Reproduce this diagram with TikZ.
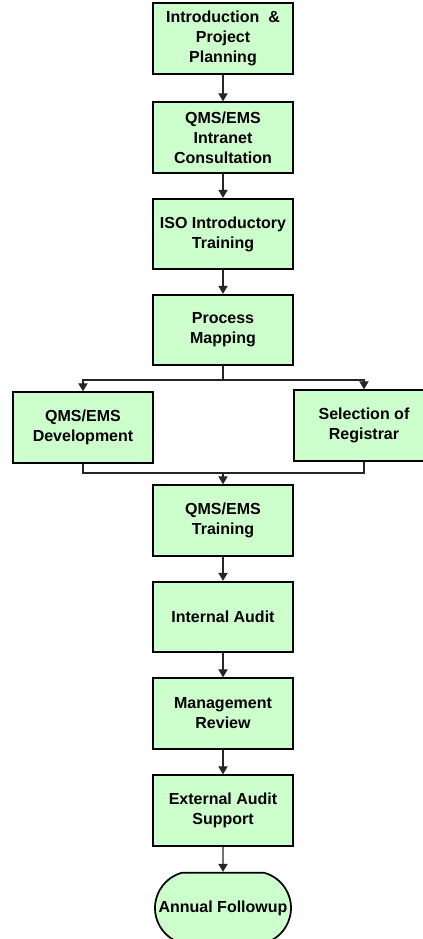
\documentclass[tikz,border=0pt]{standalone}
\usepackage{fontspec}
\setmainfont{Liberation Sans}
\usepackage{tikz}
\usetikzlibrary{arrows.meta,shapes.misc}
\definecolor{boxgreen}{HTML}{CCFFCC}
\tikzstyle{stage}=[rectangle,draw=black,line width=1.3pt,fill=boxgreen,minimum width=105pt,minimum height=53pt,align=center,inner sep=2pt,font=\fontsize{12}{15}\selectfont\bfseries]
\tikzstyle{terminal}=[stage,rounded rectangle,rounded rectangle arc length=150,minimum width=106pt,minimum height=53pt]
\tikzstyle{link}=[draw,line width=0.8pt,black!85]
\tikzstyle{arrow}=[link,-{Triangle[width=7pt,length=6pt]}]

\begin{document}
\begin{tikzpicture}[x=0.75pt,y=-0.75pt]
    \useasboundingbox (0,0) rectangle (422,939);
    % main column
    \foreach \pos/\name/\txt in {{(223,38.5)/intro/{Introduction \ \&\\Project\\Planning}},
        {(223,137.5)/intranet/{QMS/EMS\\Intranet\\Consultation}},
        {(223,234)/iso/{ISO Introductory\\Training}},
        {(223,330)/process/{Process\\Mapping}},
        {(83,427.5)/dev/{QMS/EMS\\Development}},
        {(364,425.5)/registrar/{Selection of\\Registrar}},
        {(223,520.5)/training/{QMS/EMS\\Training}},
        {(223,617)/audit/{Internal Audit}},
        {(223,713.5)/review/{Management\\Review}},
        {(223,810.5)/external/{External Audit\\Support}}}
        \node[stage] (\name) at \pos {\txt};
    \node[terminal] (followup) at (223,908) {Annual Followup};
    \foreach \source/\dest in {intro/intranet, intranet/iso, iso/process, training/audit,
        audit/review, review/external, external/followup}
        \path[arrow] (\source) -- (\dest);
    % split and merge
    \coordinate (split) at (223,380);
    \coordinate (merge) at (223,473);
    \path[link] (process) -- (split);
    \foreach \dest in {dev, registrar}
        \path[arrow] (split) -| (\dest);
    \foreach \source in {dev, registrar}
        \path[link] (\source) |- (merge);
    \path[arrow] (merge) -- (training);
\end{tikzpicture}
\end{document}
